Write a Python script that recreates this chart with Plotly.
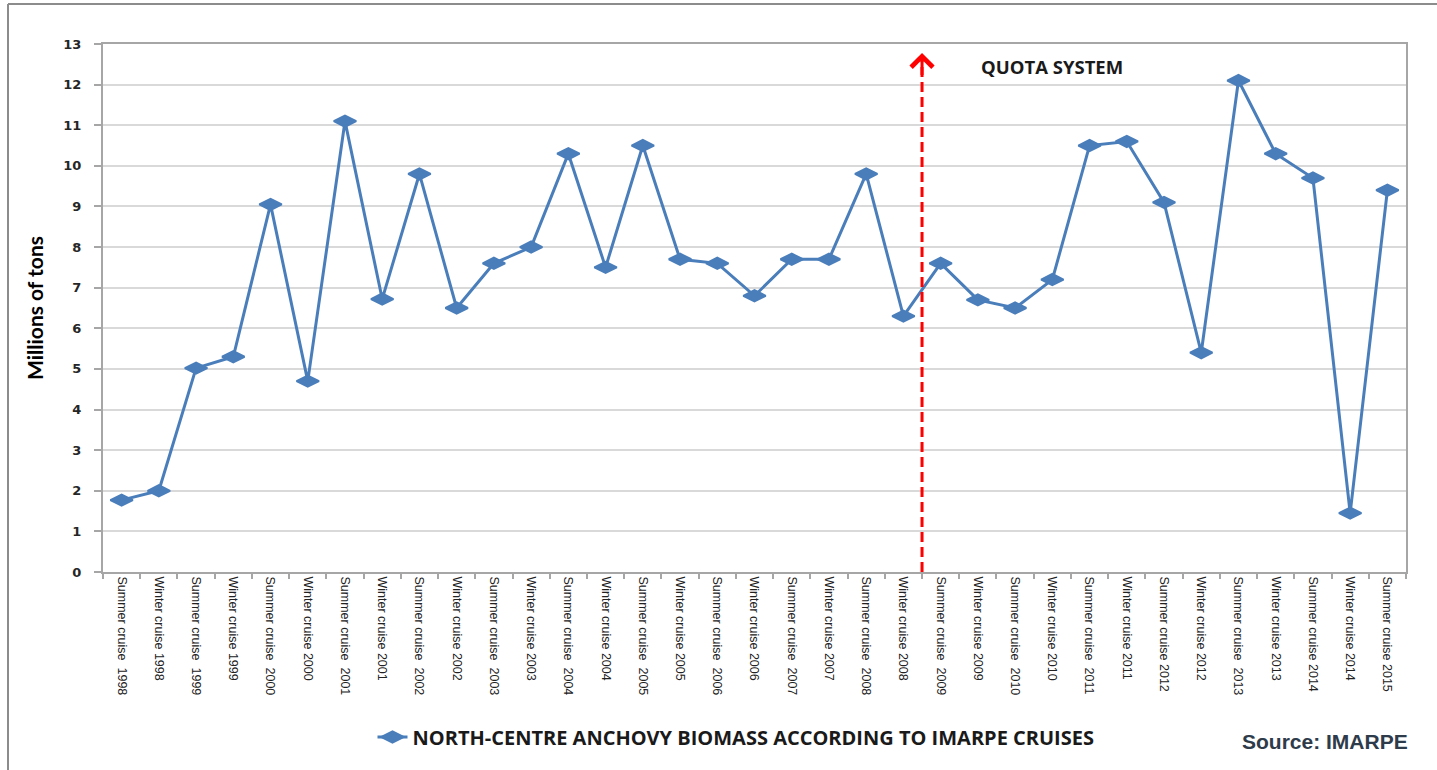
import plotly.graph_objects as go

# Survey cruises (summer / winter) and the north-centre anchovy biomass, millions of tons
cruises = [
    "Summer cruise\u00a0 1998", "Winter cruise 1998",
    "Summer cruise\u00a0 1999", "Winter cruise 1999",
    "Summer cruise\u00a0 2000", "Winter cruise 2000",
    "Summer cruise\u00a0 2001", "Winter cruise 2001",
    "Summer cruise\u00a0 2002", "Winter cruise 2002",
    "Summer cruise\u00a0 2003", "Winter cruise 2003",
    "Summer cruise\u00a0 2004", "Winter cruise 2004",
    "Summer cruise\u00a0 2005", "Winter cruise 2005",
    "Summer cruise\u00a0 2006", "Winter cruise 2006",
    "Summer cruise\u00a0 2007", "Winter cruise 2007",
    "Summer cruise\u00a0 2008", "Winter cruise 2008",
    "Summer cruise\u00a0 2009", "Winter cruise 2009",
    "Summer cruise\u00a0 2010", "Winter cruise 2010",
    "Summer cruise\u00a0 2011", "Winter cruise 2011",
    "Summer cruise 2012", "Winter cruise 2012",
    "Summer cruise\u00a0 2013", "Winter cruise 2013",
    "Summer cruise 2014", "Winter cruise 2014",
    "Summer cruise 2015",
]
biomass = [
    1.77, 2.0, 5.02, 5.3, 9.05, 4.7, 11.1, 6.72, 9.8, 6.5,
    7.6, 8.0, 10.3, 7.5, 10.5, 7.7, 7.6, 6.8, 7.7, 7.7,
    9.8, 6.3, 7.6, 6.7, 6.5, 7.2, 10.5, 10.6, 9.1, 5.4,
    12.1, 10.3, 9.7, 1.45, 9.4,
]
y_ticks = list(range(0, 14))

series_name = "NORTH-CENTRE ANCHOVY BIOMASS ACCORDING TO IMARPE CRUISES"
quota_label = "QUOTA SYSTEM"
quota_start = 21.5          # boundary between Winter 2008 and Summer 2009
source_label = "Source: IMARPE"

W, H = 1437, 770
ML, MR, MT, MB = 103, 31, 44, 198
PW, PH = W - ML - MR, H - MT - MB


def px_x(px):
    return (px - ML) / PW


def px_y(py):
    return (H - MB - py) / PH


blue = "#4A7EBB"
grid = "#D9D9D9"
axis_gray = "#A6A6A6"
label_font = "Open Sans, Lato, sans-serif"

fig = go.Figure()
fig.add_trace(go.Scatter(
    x=cruises, y=biomass, name=series_name, mode="lines+markers",
    line=dict(color=blue, width=3),
    marker=dict(symbol="diamond-wide", size=16, color=blue,
                line=dict(color=blue, width=2)),
))

# dashed red marker of the quota system start
fig.add_shape(type="line", xref="x", yref="y",
              x0=quota_start, x1=quota_start, y0=0, y1=12.7,
              line=dict(color="#FF0000", width=3, dash="10px,5px"))
fig.add_annotation(x=quota_start, y=12.78, ax=quota_start, ay=12.2,
                   xref="x", yref="y", axref="x", ayref="y",
                   text="", showarrow=True, arrowhead=4, arrowsize=1.4,
                   arrowwidth=3, arrowcolor="#FF0000")
fig.add_annotation(x=25, y=12.45, xref="x", yref="y", text=quota_label,
                   showarrow=False,
                   font=dict(family=label_font, size=18.5,
                             color="#1a1a1a", weight="bold"))
fig.add_annotation(x=px_x(1410), y=px_y(741), xref="paper", yref="paper",
                   xanchor="right", yanchor="middle", text=source_label,
                   showarrow=False,
                   font=dict(family="Liberation Sans, Arial, sans-serif",
                             size=21, color="#2E3B4A", weight="bold"))

# outer frame of the chart
frame = dict(color="#8C8C8C", width=2)
fig.add_shape(type="line", xref="paper", yref="paper",
              x0=px_x(8), x1=px_x(8), y0=px_y(4), y1=px_y(H + 5), line=frame)
fig.add_shape(type="line", xref="paper", yref="paper",
              x0=px_x(8), x1=px_x(W + 5), y0=px_y(4), y1=px_y(4), line=frame)

fig.update_layout(
    width=W, height=H,
    margin=dict(l=ML, r=MR, t=MT, b=MB, pad=0),
    paper_bgcolor="white", plot_bgcolor="white",
    showlegend=True,
    legend=dict(orientation="h", x=px_x(736), xanchor="center",
                y=px_y(737), yanchor="middle",
                font=dict(family=label_font, size=20,
                          color="#1a1a1a", weight="bold"),
                bgcolor="rgba(0,0,0,0)"),
    xaxis=dict(
        type="category", range=[-0.5, len(cruises) - 0.5],
        showgrid=False, showline=True, linecolor=axis_gray, linewidth=2,
        mirror=True, ticks="outside", tickson="boundaries", ticklen=5,
        tickcolor=axis_gray, tickwidth=1.5, tickangle=90,
        tickfont=dict(family="Liberation Sans, Arial, sans-serif", size=12.5,
                      color="#222222"),
    ),
    yaxis=dict(
        range=[0, 13], tickvals=y_ticks, showgrid=True, gridcolor=grid,
        gridwidth=1.5, zeroline=False, showline=True, linecolor=axis_gray,
        linewidth=2, mirror=True, ticks="outside", ticklen=7,
        tickcolor=axis_gray, tickwidth=1.5, ticklabelstandoff=10,
        tickfont=dict(family="DejaVu Sans, Verdana, sans-serif", size=13,
                      color="#262626", weight="bold"),
        title=dict(text="Millions of tons", standoff=14,
                   font=dict(family="Liberation Sans Narrow, Arial Narrow, Lato, sans-serif",
                             size=21, color="#000000", weight="bold")),
    ),
)

fig.write_html("out.html")
